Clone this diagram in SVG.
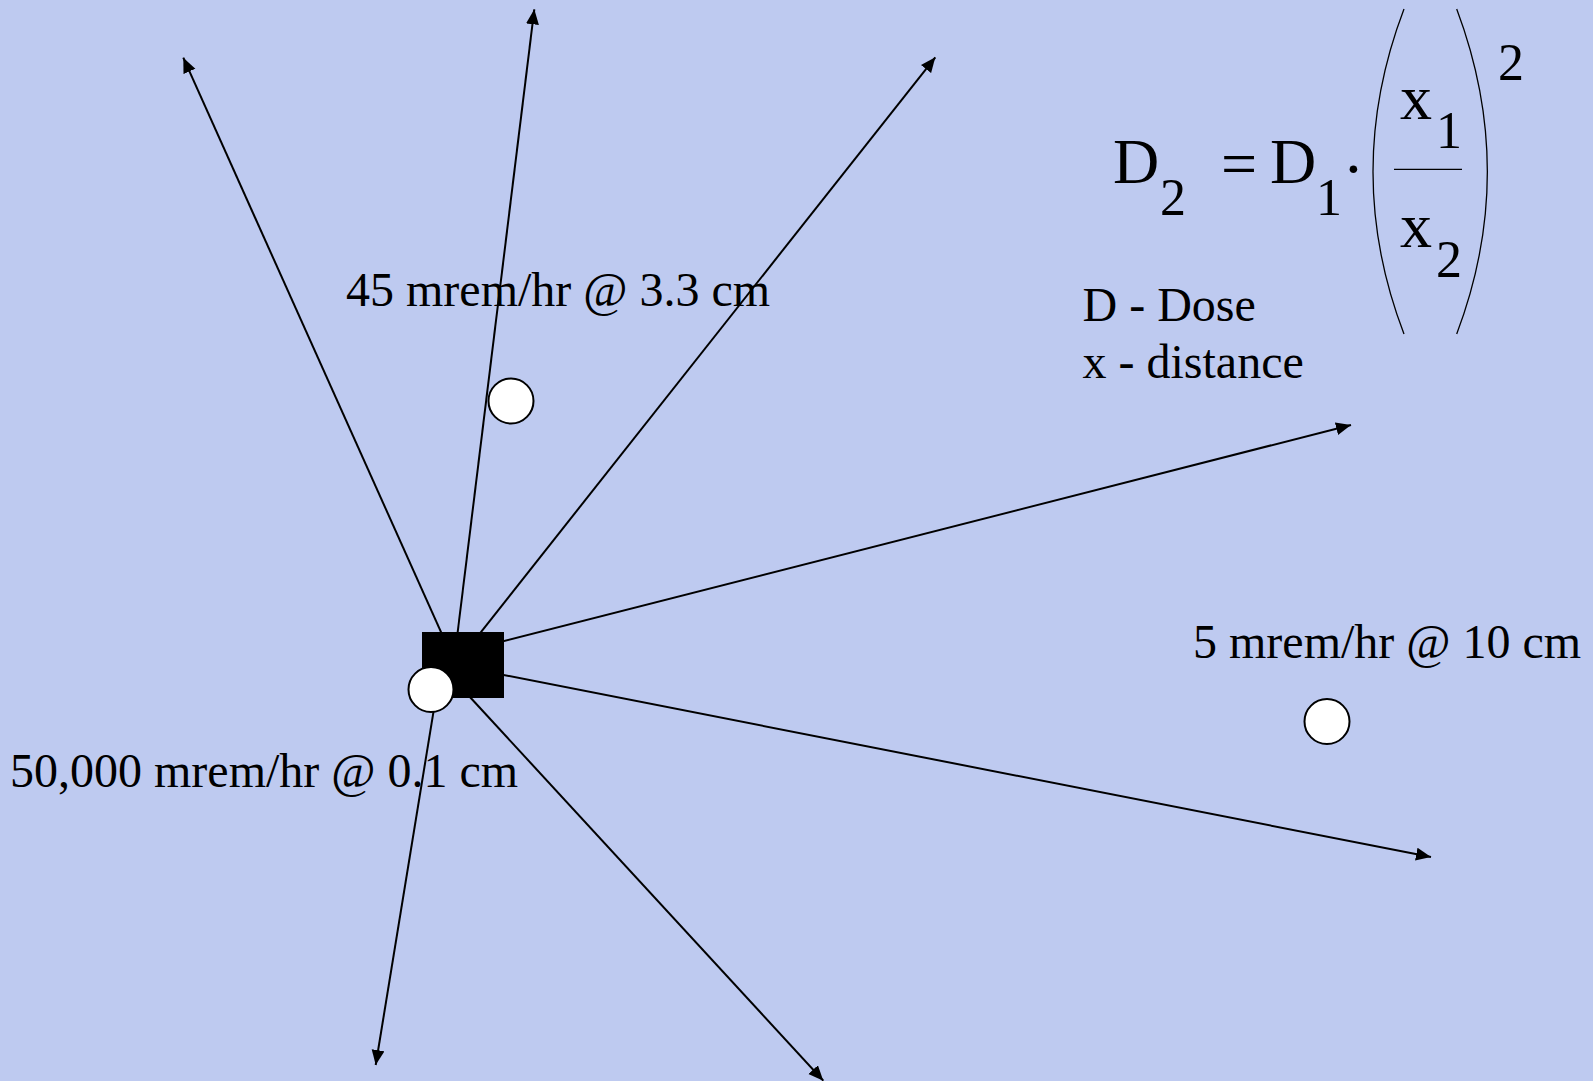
<svg xmlns="http://www.w3.org/2000/svg" width="1593" height="1081" viewBox="0 0 1593 1081">
  <defs>
    <marker id="arrow" markerUnits="userSpaceOnUse" markerWidth="16" markerHeight="14" refX="15" refY="6.5" orient="auto">
      <path d="M0,0 L15,6.5 L0,13 z" fill="#000"/>
    </marker>
    <style>
      .ray { stroke: #000; stroke-width: 2; fill: none; marker-end: url(#arrow); }
      .lbl { font-family: "Liberation Serif", "Times New Roman", serif; font-size: 48px; fill: #000; }
      .eq { font-family: "Liberation Serif", "Times New Roman", serif; font-size: 64px; fill: #000; }
      .sub { font-family: "Liberation Serif", "Times New Roman", serif; font-size: 52px; fill: #000; }
      .pt { fill: #fff; stroke: #000; stroke-width: 2; }
      .thin { stroke: #000; stroke-width: 1.3; fill: none; }
    </style>
  </defs>
  <rect x="0" y="0" width="1593" height="1081" fill="#BECAF0"/>

  <g id="connectors">
    <line class="ray" x1="444.3" y1="639.3" x2="183.3" y2="57.7"/>
    <line class="ray" x1="456.7" y1="640" x2="534.3" y2="9.3"/>
    <line class="ray" x1="476" y1="638.3" x2="935.3" y2="57.3"/>
    <line class="ray" x1="496.2" y1="643" x2="1351" y2="425"/>
    <line class="ray" x1="496" y1="673.5" x2="1431" y2="857"/>
    <line class="ray" x1="465.3" y1="692" x2="823.3" y2="1080.7"/>
    <line class="ray" x1="436.5" y1="693.3" x2="375.7" y2="1065"/>
  </g>

  <g id="source">
    <rect x="422" y="632" width="82" height="66" fill="#000"/>
  </g>

  <g id="point-0-1cm">
    <circle class="pt" cx="431" cy="689.5" r="22.5"/>
    <text class="lbl" x="10" y="787">50,000 mrem/hr @ 0.1 cm</text>
  </g>

  <g id="point-3-3cm">
    <circle class="pt" cx="511" cy="401" r="22.5"/>
    <text class="lbl" x="346" y="306">45 mrem/hr @ 3.3 cm</text>
  </g>

  <g id="point-10cm">
    <circle class="pt" cx="1327" cy="721.5" r="22.5"/>
    <text class="lbl" x="1193" y="658">5 mrem/hr @ 10 cm</text>
  </g>

  <g id="legend">
    <text class="lbl" x="1082.5" y="321">D - Dose</text>
    <text class="lbl" x="1082.5" y="378">x - distance</text>
  </g>

  <g id="formula">
    <text class="eq" x="1113" y="183.3">D</text>
    <text class="sub" x="1160" y="215">2</text>
    <text class="eq" x="1221" y="185">=</text>
    <text class="eq" x="1270" y="183.3">D</text>
    <text class="sub" x="1316" y="215">1</text>
    <text class="eq" x="1342.7" y="190">·</text>
    <path class="thin" d="M1404,9 Q1342,172 1404,334"/>
    <text class="eq" x="1400" y="119">x</text>
    <text class="sub" x="1436" y="148.3">1</text>
    <line class="thin" x1="1394" y1="169.3" x2="1462" y2="169.3"/>
    <text class="eq" x="1400" y="246.7">x</text>
    <text class="sub" x="1436" y="276.7">2</text>
    <path class="thin" d="M1456.7,9 Q1518,172 1456.7,334"/>
    <text class="sub" x="1498" y="80">2</text>
  </g>
</svg>
